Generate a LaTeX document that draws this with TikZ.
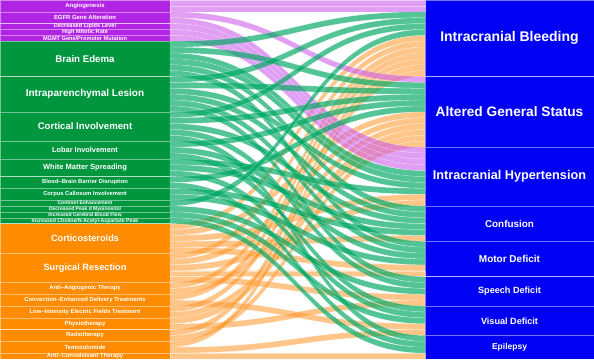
\documentclass[tikz,border=0pt]{standalone}
\usepackage{fontspec}
\setmainfont{Liberation Sans}
\usetikzlibrary{positioning, calc}
\definecolor{colpur}{RGB}{178,36,228}
\definecolor{colgrn}{RGB}{0,150,62}
\definecolor{colorg}{RGB}{255,140,0}
\definecolor{colblu}{RGB}{0,0,242}
\definecolor{rpur}{RGB}{200,80,235}
\definecolor{rgrn}{RGB}{0,168,100}
\definecolor{rorg}{RGB}{255,150,40}
\newcommand{\ribw}{5.8852}
\newcommand{\lblsize}[1]{\fontsize{#1}{#1}\selectfont\bfseries}

\begin{document}
\begin{tikzpicture}[x=1pt, y=1pt,
  box/.style={rectangle, draw=white, draw opacity=0.45, line width=0.5pt,
              text=white, inner sep=0pt, outer sep=0pt, align=center},
  lnode/.style={box, minimum width=170pt, minimum height=#1*\ribw pt},
  pnode/.style={lnode=#1, fill=colpur},
  gnode/.style={lnode=#1, fill=colgrn},
  onode/.style={lnode=#1, fill=colorg},
  rnode/.style={box, fill=colblu, minimum width=169pt, minimum height=#1*\ribw pt},
  ribbon/.style={fill opacity=#1, draw=white, draw opacity=0.45, line width=0.3pt},
  pribbon/.style={ribbon=0.55, fill=rpur},
  gribbon/.style={ribbon=0.68, fill=rgrn},
  oribbon/.style={ribbon=0.55, fill=rorg},
  node distance=0pt
]
\useasboundingbox (0,0) rectangle (594,-359);

% Findings and treatments (left)
\node[pnode=2, anchor=north west, font=\lblsize{6}] (ang) at (0,0) {Angiogenesis};
\node[pnode=2, below=of ang, font=\lblsize{5.9}] (egfr) {EGFR Gene Alteration};
\node[pnode=1, below=of egfr, font=\lblsize{5.6}] (lip) {Decreased Lipids Level};
\node[pnode=1, below=of lip, font=\lblsize{5.6}] (mit) {High Mitotic Rate};
\node[pnode=1, below=of mit, font=\lblsize{5.6}] (mgmt) {MGMT Gene/Promoter Mutation};
\node[gnode=6, below=of mgmt, font=\lblsize{9.7}] (edema) {Brain Edema};
\node[gnode=6, below=of edema, font=\lblsize{10}] (lesion) {Intraparenchymal Lesion};
\node[gnode=5, below=of lesion, font=\lblsize{9.6}] (cort) {Cortical Involvement};
\node[gnode=3, below=of cort, font=\lblsize{7.4}] (lobar) {Lobar Involvement};
\node[gnode=3, below=of lobar, font=\lblsize{7.5}] (white) {White Matter Spreading};
\node[gnode=2, below=of white, font=\lblsize{5.8}] (bbb) {Blood--Brain Barrier Disruption};
\node[gnode=2, below=of bbb, font=\lblsize{5.8}] (corpus) {Corpus Callosum Involvement};
\node[gnode=1, below=of corpus, font=\lblsize{5}] (contr) {Contrast Enhancement};
\node[gnode=1, below=of contr, font=\lblsize{5}] (myo) {Decreased Peak d Myoinositol};
\node[gnode=1, below=of myo, font=\lblsize{5}] (flow) {Increased Cerebral Blood Flow};
\node[gnode=1, below=of flow, font=\lblsize{5.2}] (chol) {Increased Choline/N-Acetyl-Aspartate Peak};
\node[onode=5, below=of chol, font=\lblsize{9.2}] (ster) {Corticosteroids};
\node[onode=5, below=of ster, font=\lblsize{9.2}] (surg) {Surgical Resection};
\node[onode=2, below=of surg, font=\lblsize{5.9}] (antiang) {Anti--Angiogenic Therapy};
\node[onode=2, below=of antiang, font=\lblsize{5.9}] (conv) {Convection--Enhanced Delivery Treatments};
\node[onode=2, below=of conv, font=\lblsize{5.9}] (field) {Low--Intensity Electric Fields Treatment};
\node[onode=2, below=of field, font=\lblsize{5.9}] (phys) {Physiotherapy};
\node[onode=2, below=of phys, font=\lblsize{5.9}] (radio) {Radiotherapy};
\node[onode=2, below=of radio, font=\lblsize{5.9}] (tmz) {Temozolomide};
\node[onode=1, below=of tmz, font=\lblsize{5.9}] (conval) {Anti--Convulsivant Therapy};

% Symptoms (right)
\node[rnode=13, anchor=north west, font=\lblsize{14}] (bleed) at (425,0) {Intracranial Bleeding};
\node[rnode=12, below=of bleed, font=\lblsize{13.7}] (status) {Altered General Status};
\node[rnode=10, below=of status, font=\lblsize{12.7}] (hyper) {Intracranial Hypertension};
\node[rnode=6, below=of hyper, font=\lblsize{9.9}] (conf) {Confusion};
\node[rnode=6, below=of conf, font=\lblsize{10}] (motor) {Motor Deficit};
\node[rnode=5, below=of motor, font=\lblsize{9.1}] (speech) {Speech Deficit};
\node[rnode=5, below=of speech, font=\lblsize{9.1}] (visual) {Visual Deficit};
\node[rnode=4, below=of visual, font=\lblsize{8.5}] (epil) {Epilepsy};

\coordinate (lcol) at (ang.north east);
\coordinate (rcol) at (bleed.north west);

% Strands: left slot / right slot
\foreach \a/\b in {38/6,39/19,40/33,41/40,42/45,43/7,44/20,45/34,46/46,47/50,
                   48/8,49/21,50/9,51/55,52/10,53/22,54/23,55/51,56/11,57/24,
                   58/12,59/56,60/60}
  \draw[oribbon] ($(lcol)+(0,-\a*\ribw)$) .. controls +(127.5,0) and +(-127.5,0)
    .. ($(rcol)+(0,-\b*\ribw)$) -- ++(0,-\ribw) .. controls +(-127.5,0) and +(127.5,0)
    .. ($(lcol)+(0,-\a*\ribw-\ribw)$) -- cycle;
\foreach \a/\b in {0/0,1/1,2/13,3/25,4/26,5/27,6/28}
  \draw[pribbon] ($(lcol)+(0,-\a*\ribw)$) .. controls +(127.5,0) and +(-127.5,0)
    .. ($(rcol)+(0,-\b*\ribw)$) -- ++(0,-\ribw) .. controls +(-127.5,0) and +(127.5,0)
    .. ($(lcol)+(0,-\a*\ribw-\ribw)$) -- cycle;
\foreach \a/\b in {7/2,8/14,9/29,10/30,11/35,12/41,13/3,14/15,15/31,16/36,17/42,
                   18/47,19/4,20/16,21/37,22/48,23/57,24/17,25/43,26/52,27/32,
                   28/38,29/53,30/18,31/58,32/39,33/44,34/5,35/49,36/54,37/59}
  \draw[gribbon] ($(lcol)+(0,-\a*\ribw)$) .. controls +(127.5,0) and +(-127.5,0)
    .. ($(rcol)+(0,-\b*\ribw)$) -- ++(0,-\ribw) .. controls +(-127.5,0) and +(127.5,0)
    .. ($(lcol)+(0,-\a*\ribw-\ribw)$) -- cycle;
\end{tikzpicture}
\end{document}
